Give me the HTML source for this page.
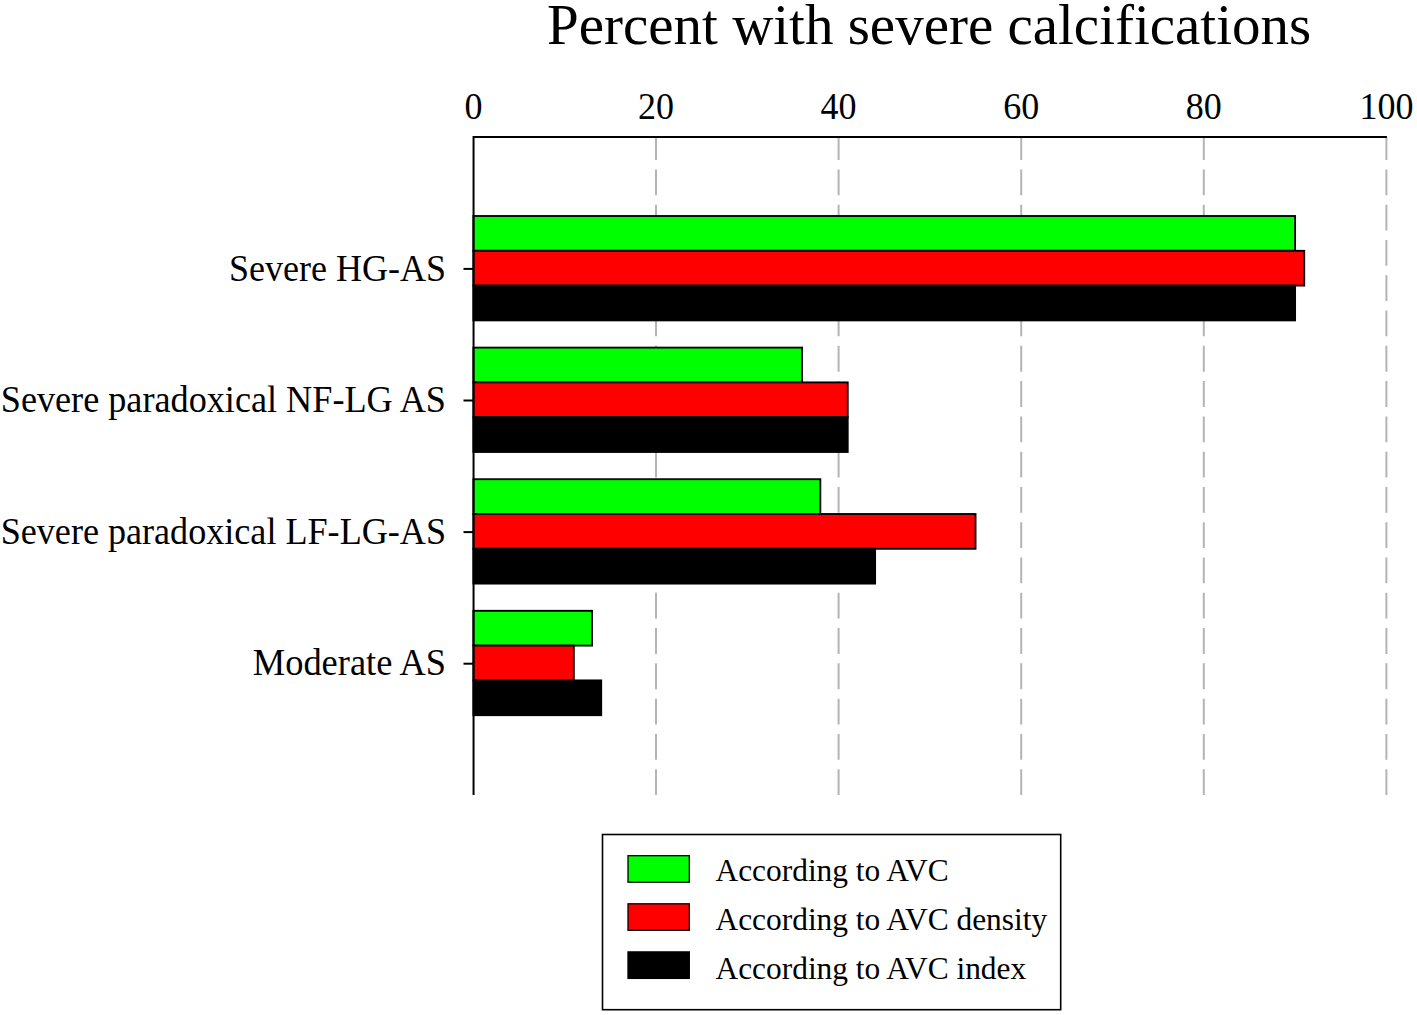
<!DOCTYPE html>
<html><head><meta charset="utf-8"><style>
html,body{margin:0;padding:0;background:#fff;}
body{width:1417px;height:1015px;overflow:hidden;}
svg{display:block;}
text{font-family:"Liberation Serif",serif;fill:#000;}
.title{font-size:57px;}
.tick{font-size:36px;}
.lab{font-size:36px;}
.leg{font-size:31.4px;}
</style></head><body>
<svg width="1417" height="1015" viewBox="0 0 1417 1015">
<rect width="1417" height="1015" fill="#fff"/>
<line x1="656.00" y1="795.0" x2="656.00" y2="137.0" stroke="#b4b4b4" stroke-width="2" stroke-dasharray="25.8 9.48"/>
<line x1="838.60" y1="795.0" x2="838.60" y2="137.0" stroke="#b4b4b4" stroke-width="2" stroke-dasharray="25.8 9.48"/>
<line x1="1021.20" y1="795.0" x2="1021.20" y2="137.0" stroke="#b4b4b4" stroke-width="2" stroke-dasharray="25.8 9.48"/>
<line x1="1203.80" y1="795.0" x2="1203.80" y2="137.0" stroke="#b4b4b4" stroke-width="2" stroke-dasharray="25.8 9.48"/>
<line x1="1386.40" y1="795.0" x2="1386.40" y2="137.0" stroke="#b4b4b4" stroke-width="2" stroke-dasharray="25.8 9.48"/>
<rect x="473.40" y="216.00" width="821.70" height="34.80" fill="#00ff00" stroke="#000" stroke-width="1.85"/>
<rect x="473.40" y="250.80" width="830.83" height="34.80" fill="#ff0000" stroke="#000" stroke-width="1.85"/>
<rect x="473.40" y="285.60" width="821.70" height="34.80" fill="#000000" stroke="#000" stroke-width="1.85"/>
<line x1="463.5" y1="268.90" x2="473.4" y2="268.90" stroke="#000" stroke-width="2"/>
<text transform="translate(446 280.50) scale(1.0 1.04)" text-anchor="end" class="lab">Severe HG-AS</text>
<rect x="473.40" y="347.60" width="328.68" height="34.80" fill="#00ff00" stroke="#000" stroke-width="1.85"/>
<rect x="473.40" y="382.40" width="374.33" height="34.80" fill="#ff0000" stroke="#000" stroke-width="1.85"/>
<rect x="473.40" y="417.20" width="374.33" height="34.80" fill="#000000" stroke="#000" stroke-width="1.85"/>
<line x1="463.5" y1="400.50" x2="473.4" y2="400.50" stroke="#000" stroke-width="2"/>
<text transform="translate(446 412.10) scale(1.0057 1.04)" text-anchor="end" class="lab">Severe paradoxical NF-LG AS</text>
<rect x="473.40" y="479.20" width="346.94" height="34.80" fill="#00ff00" stroke="#000" stroke-width="1.85"/>
<rect x="473.40" y="514.00" width="502.15" height="34.80" fill="#ff0000" stroke="#000" stroke-width="1.85"/>
<rect x="473.40" y="548.80" width="401.72" height="34.80" fill="#000000" stroke="#000" stroke-width="1.85"/>
<line x1="463.5" y1="532.10" x2="473.4" y2="532.10" stroke="#000" stroke-width="2"/>
<text transform="translate(446 543.70) scale(1.0036 1.04)" text-anchor="end" class="lab">Severe paradoxical LF-LG-AS</text>
<rect x="473.40" y="610.80" width="118.69" height="34.80" fill="#00ff00" stroke="#000" stroke-width="1.85"/>
<rect x="473.40" y="645.60" width="100.43" height="34.80" fill="#ff0000" stroke="#000" stroke-width="1.85"/>
<rect x="473.40" y="680.40" width="127.82" height="34.80" fill="#000000" stroke="#000" stroke-width="1.85"/>
<line x1="463.5" y1="663.70" x2="473.4" y2="663.70" stroke="#000" stroke-width="2"/>
<text transform="translate(446 675.30) scale(1.012 1.04)" text-anchor="end" class="lab">Moderate AS</text>
<path d="M473.55 795.0 V137.0 H1386.9" fill="none" stroke="#000" stroke-width="2"/>
<text transform="translate(473.40 118.9) scale(1 1.044)" text-anchor="middle" class="tick">0</text>
<text transform="translate(656.00 118.9) scale(1 1.044)" text-anchor="middle" class="tick">20</text>
<text transform="translate(838.60 118.9) scale(1 1.044)" text-anchor="middle" class="tick">40</text>
<text transform="translate(1021.20 118.9) scale(1 1.044)" text-anchor="middle" class="tick">60</text>
<text transform="translate(1203.80 118.9) scale(1 1.044)" text-anchor="middle" class="tick">80</text>
<text transform="translate(1386.40 118.9) scale(1 1.044)" text-anchor="middle" class="tick">100</text>
<text transform="translate(929.1 43.8) scale(1 1.01)" text-anchor="middle" class="title">Percent with severe calcifications</text>
<rect x="602.5" y="834.5" width="458.2" height="175.2" fill="none" stroke="#000" stroke-width="1.6"/>
<rect x="628" y="855.70" width="61.3" height="26.5" fill="#00ff00" stroke="#000" stroke-width="1.3"/>
<text x="715.5" y="881.30" class="leg">According to AVC</text>
<rect x="628" y="903.80" width="61.3" height="26.5" fill="#ff0000" stroke="#000" stroke-width="1.3"/>
<text x="715.5" y="929.95" class="leg">According to AVC density</text>
<rect x="628" y="951.90" width="61.3" height="26.5" fill="#000000" stroke="#000" stroke-width="1.3"/>
<text x="715.5" y="978.60" class="leg">According to AVC index</text>
</svg>
</body></html>
